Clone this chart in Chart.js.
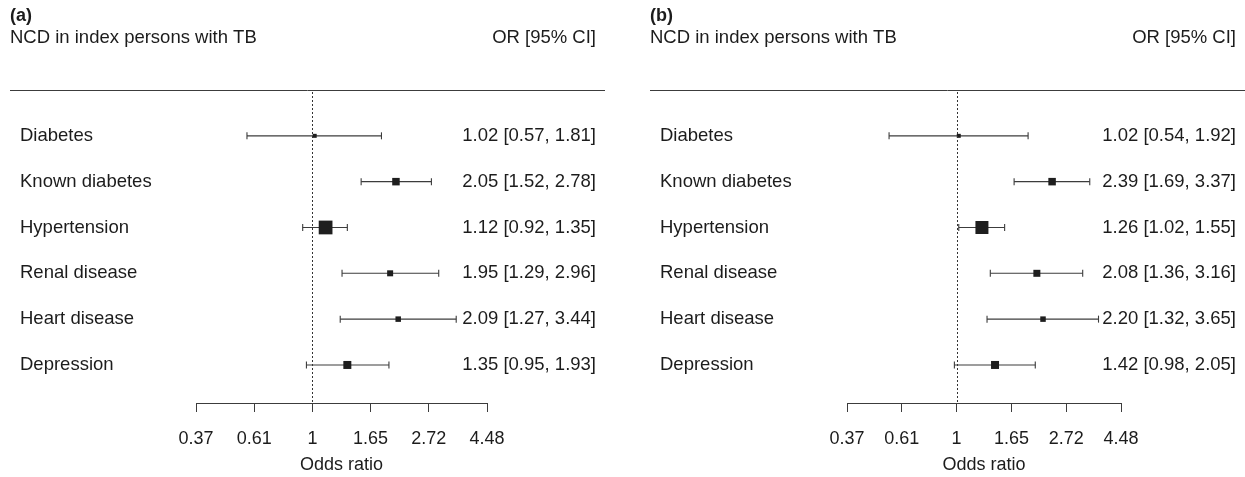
<!DOCTYPE html>
<html>
<head>
<meta charset="utf-8">
<script src="https://cdn.jsdelivr.net/npm/chart.js@4/dist/chart.umd.min.js"></script>
<style>
  html, body { margin: 0; padding: 0; background: #fff; }
  #wrap { position: relative; width: 1245px; height: 477px; overflow: hidden; }
  .panel { position: absolute; top: 0; height: 477px; }
</style>
</head>
<body>
<div id="wrap">
  <div class="panel" style="left:0;width:640px"><canvas id="panelA"></canvas></div>
  <div class="panel" style="left:640px;width:605px"><canvas id="panelB"></canvas></div>
</div>
<script>
// Non-communicable diseases in index persons with TB: odds ratios with 95% CI
const conditions = ['Diabetes', 'Known diabetes', 'Hypertension', 'Renal disease', 'Heart disease', 'Depression'];

// Panel (a)
const orA   = [1.02, 2.05, 1.12, 1.95, 2.09, 1.35];
const lowA  = [0.57, 1.52, 0.92, 1.29, 1.27, 0.95];
const highA = [1.81, 2.78, 1.35, 2.96, 3.44, 1.93];
const weightA = [3.2, 6.0, 11.0, 4.8, 4.4, 6.4];

// Panel (b)
const orB   = [1.02, 2.39, 1.26, 2.08, 2.20, 1.42];
const lowB  = [0.54, 1.69, 1.02, 1.36, 1.32, 0.98];
const highB = [1.92, 3.37, 1.55, 3.16, 3.65, 2.05];
const weightB = [3.2, 6.0, 10.4, 5.6, 4.4, 6.4];

// Odds-ratio axis: ticks at e^-1 ... e^1.5
const tickValues = [Math.exp(-1), Math.exp(-0.5), 1, Math.exp(0.5), Math.exp(1), Math.exp(1.5)];
const tickLabels = ['0.37', '0.61', '1', '1.65', '2.72', '4.48'];

const FONT = '"Liberation Sans", Arial, Helvetica, sans-serif';
const TEXT = '#1c1c1c';
const INK = '#3c3c3c';

function fmt(v) { return v.toFixed(2); }

function forestPlugin(tag, or, low, high) {
  return {
    id: 'forest' + tag,
    afterDraw(chart) {
      const { ctx, chartArea, scales } = chart;
      const w = chart.width;
      const ruleRight = Math.min(605, w);
      const valueRight = 596;
      ctx.save();
      ctx.fillStyle = TEXT;
      ctx.textBaseline = 'middle';
      // headers
      ctx.font = 'bold 18px ' + FONT;
      ctx.textAlign = 'left';
      ctx.fillText('(' + tag + ')', 10, 16);
      ctx.font = '18.5px ' + FONT;
      ctx.fillText('NCD in index persons with TB', 10, 38);
      ctx.textAlign = 'right';
      ctx.fillText('OR [95% CI]', valueRight, 38);
      // top rule
      ctx.strokeStyle = INK;
      ctx.lineWidth = 1;
      ctx.beginPath();
      ctx.moveTo(10, chartArea.top + 0.5);
      ctx.lineTo(ruleRight, chartArea.top + 0.5);
      ctx.stroke();
      // reference line at OR = 1
      const x1 = Math.round(scales.x.getPixelForValue(1)) + 0.5;
      ctx.setLineDash([2, 2]);
      ctx.strokeStyle = '#333';
      ctx.beginPath();
      ctx.moveTo(x1, chartArea.top + 2);
      ctx.lineTo(x1, chartArea.bottom);
      ctx.stroke();
      ctx.setLineDash([]);
      // row labels and estimates
      ctx.font = '18.5px ' + FONT;
      conditions.forEach((name, i) => {
        const y = scales.y.getPixelForValue(i + 1);
        ctx.textAlign = 'left';
        ctx.fillText(name, 20, y);
        ctx.textAlign = 'right';
        ctx.fillText(fmt(or[i]) + ' [' + fmt(low[i]) + ', ' + fmt(high[i]) + ']', valueRight, y);
      });
      ctx.restore();
    }
  };
}

function makeForest(canvasId, tag, or, low, high, weight, padLeft, padRight) {
  const ciSets = conditions.map((name, i) => ({
    label: name,
    showLine: true,
    data: [{ x: low[i], y: i + 1 }, { x: high[i], y: i + 1 }],
    borderColor: INK,
    borderWidth: 1.1,
    pointStyle: 'line',
    rotation: 90,
    pointRadius: 3.5,
    pointBorderColor: INK,
    pointBorderWidth: 1.1,
    pointHoverRadius: 3.5,
    order: 2
  }));
  const estSet = {
    label: 'OR',
    data: or.map((v, i) => ({ x: v, y: i + 1 })),
    pointStyle: 'rect',
    pointRadius: weight.map(wt => wt * 1.25 / Math.SQRT2),
    backgroundColor: '#1e1e1e',
    borderColor: '#1e1e1e',
    borderWidth: 0,
    order: 1
  };
  return new Chart(document.getElementById(canvasId), {
    type: 'scatter',
    data: { datasets: [...ciSets, estSet] },
    options: {
      responsive: true,
      maintainAspectRatio: false,
      animation: false,
      events: [],
      layout: { padding: { left: padLeft, right: padRight, top: 90, bottom: 0 } },
      plugins: { legend: { display: false }, tooltip: { enabled: false } },
      scales: {
        x: {
          type: 'logarithmic',
          min: tickValues[0],
          max: tickValues[tickValues.length - 1],
          afterBuildTicks: s => { s.ticks = tickValues.map(v => ({ value: v })); },
          afterFit: s => { s.height = 74; },
          ticks: {
            autoSkip: false,
            maxRotation: 0,
            padding: 16,
            color: TEXT,
            font: { family: FONT, size: 18 },
            callback: (v, i) => tickLabels[i]
          },
          grid: { drawOnChartArea: false, drawTicks: true, tickLength: 9, color: INK, lineWidth: 1 },
          border: { display: true, color: INK, width: 1 },
          title: {
            display: true,
            text: 'Odds ratio',
            color: TEXT,
            font: { family: FONT, size: 18 },
            padding: { top: 0, bottom: 1 }
          }
        },
        y: {
          type: 'linear',
          display: false,
          reverse: true,
          min: 0,
          max: 6.83
        }
      }
    },
    plugins: [forestPlugin(tag, or, low, high)]
  });
}

makeForest('panelA', 'a', orA, lowA, highA, weightA, 196, 640 - 487);
makeForest('panelB', 'b', orB, lowB, highB, weightB, 207, 605 - 481);
</script>
</body>
</html>
